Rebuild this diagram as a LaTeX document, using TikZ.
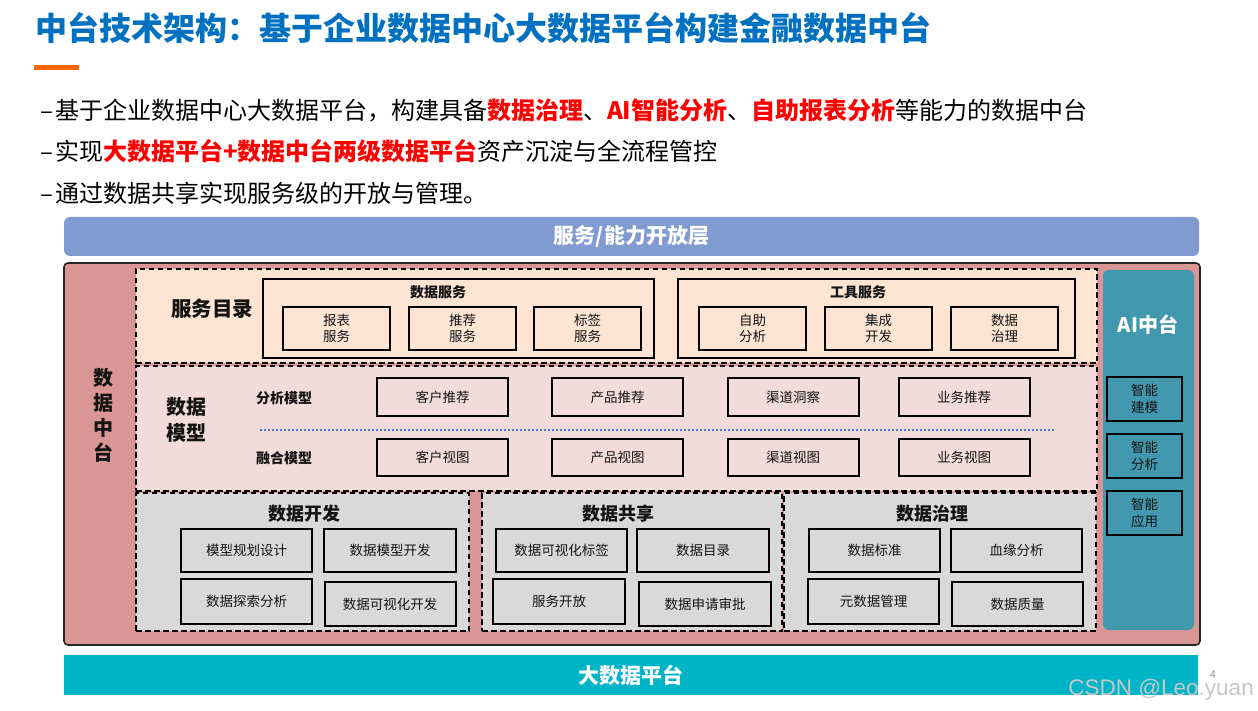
\documentclass[tikz,border=0pt]{standalone}
\usepackage{fontspec}
\setmainfont{Noto Sans CJK SC}
\newfontfamily\wmfont{Liberation Sans}
\definecolor{titleblue}{RGB}{0,112,192}
\definecolor{accorange}{RGB}{255,102,0}
\definecolor{hlred}{RGB}{255,0,0}
\definecolor{barblue}{RGB}{127,155,207}
\definecolor{outerpink}{RGB}{217,150,148}
\definecolor{peach}{RGB}{253,228,211}
\definecolor{lightpink}{RGB}{242,220,219}
\definecolor{lightgray}{RGB}{217,217,217}
\definecolor{aiteal}{RGB}{66,152,174}
\definecolor{bigcyan}{RGB}{0,180,200}
\definecolor{dotblue}{RGB}{68,114,196}
\definecolor{txtdark}{RGB}{20,20,20}
\begin{document}
\begin{tikzpicture}[x=1pt,y=-1pt,
  rect/.style 2 args={minimum width=#1pt, minimum height=#2pt, inner sep=0pt, outer sep=0pt},
  bar/.style={fill=#1, draw=none, text=white, font=\fontsize{21}{25}\selectfont\bfseries},
  sect/.style={draw=black, line width=1.8pt, dash pattern=on 5.5pt off 3.5pt, fill=#1},
  cell/.style={draw=black, line width=2pt, text=txtdark, align=center, font=\fontsize{13.5}{16.5}\selectfont},
  grp/.style={draw=black, line width=2pt},
  head/.style={text=txtdark, font=\fontsize{#1}{#1}\selectfont\bfseries, inner sep=0pt, align=center},
  bullet/.style={anchor=base west, inner sep=0pt, font=\fontsize{24}{28}\selectfont, text=black}]
\useasboundingbox (0,0) rectangle (1258,711);
\fill[white] (0,0) rectangle (1258,711);

% title
\node[anchor=west, inner sep=0pt, text=titleblue, font=\fontsize{32}{36}\selectfont\bfseries] (title) at (35,28)
  {中台技术架构：基于企业数据中心大数据平台构建金融数据中台};
\fill[accorange] (34,65) rectangle (79,70);

% bullets
\node[bullet] (b1) at (40,119.5) {–\kern2pt 基于企业数据中心大数据平台，构建具备{\bfseries\color{hlred}数据治理}、{\bfseries\color{hlred}AI智能分析}、{\bfseries\color{hlred}自助报表分析}等能力的数据中台};
\node[bullet] (b2) at (40,161) {–\kern2pt 实现{\bfseries\color{hlred}大数据平台+数据中台两级数据平台}资产沉淀与全流程管控};
\node[bullet] (b3) at (40,203) {–\kern2pt 通过数据共享实现服务级的开放与管理。};

% top bar
\node[rect={1135}{39}, bar=barblue, rounded corners=6pt] (open) at (631.5,236.5) {服务/能力开放层};

% outer pink
\node[rect={1136}{382}, fill=outerpink, draw=black!85, line width=1.6pt, rounded corners=4pt] (outer) at (632,454) {};
\node[head=20, align=center, font=\fontsize{20}{25}\selectfont\bfseries] (dzt) at (103,415.5) {数\\据\\中\\台};

% service catalog
\node[rect={961}{94}, sect=peach] (svc) at (616.5,316) {};
\node[head=20.5] (svclbl) at (212,309) {服务目录};
\node[rect={391}{79}, grp] (dsvc) at (458.5,318.5) {};
\node[head=14] (dsvct) at (438,292) {数据服务};
\node[rect={107}{43}, cell] (s1) at (336.5,328.5) {报表\\服务};
\node[rect={107}{43}, cell] (s2) at (462.5,328.5) {推荐\\服务};
\node[rect={107}{43}, cell] (s3) at (587.5,328.5) {标签\\服务};
\node[rect={397}{79}, grp] (tsvc) at (876.5,318.5) {};
\node[head=14] (tsvct) at (858,292) {工具服务};
\node[rect={107}{43}, cell] (t1) at (752.5,328.5) {自助\\分析};
\node[rect={107}{43}, cell] (t2) at (878.5,328.5) {集成\\开发};
\node[rect={107}{43}, cell] (t3) at (1004.5,328.5) {数据\\治理};

% data model
\node[rect={961}{125}, sect=lightpink] (model) at (616.5,428.5) {};
\node[head=20, font=\fontsize{20}{26}\selectfont\bfseries] (modellbl) at (186,420) {数据\\模型};
\node[head=14] (am) at (284,398) {分析模型};
\node[head=14] (fm) at (284,458) {融合模型};
\node[rect={131}{38}, cell] (a1) at (442.5,397) {客户推荐};
\node[rect={131}{38}, cell] (a2) at (617.5,397) {产品推荐};
\node[rect={131}{38}, cell] (a3) at (793,397) {渠道洞察};
\node[rect={131}{38}, cell] (a4) at (964,397) {业务推荐};
\node[rect={131}{37}, cell] (f1) at (442.5,457.5) {客户视图};
\node[rect={131}{37}, cell] (f2) at (617.5,457.5) {产品视图};
\node[rect={131}{37}, cell] (f3) at (793,457.5) {渠道视图};
\node[rect={131}{37}, cell] (f4) at (964,457.5) {业务视图};
\coordinate (dl) at (260,430);
\coordinate (dr) at (1054,430);
\draw[dotblue, line width=2pt, dash pattern=on 2pt off 2pt] (dl) -- (dr);

% data development
\node[rect={333}{138}, sect=lightgray] (dev) at (302.5,562) {};
\node[head=18] (devt) at (304.5,514) {数据开发};
\node[rect={131}{43}, cell] (d1) at (246.5,550.5) {模型规划设计};
\node[rect={132}{43}, cell] (d2) at (390,550.5) {数据模型开发};
\node[rect={131}{45}, cell] (d3) at (246.5,601.5) {数据探索分析};
\node[rect={131}{44}, cell] (d4) at (390,604) {数据可视化开发};

% data sharing
\node[rect={300}{138}, sect=lightgray] (share) at (632,562) {};
\node[head=18] (sharet) at (618,514) {数据共享};
\node[rect={131}{43}, cell] (h1) at (561.5,550.5) {数据可视化标签};
\node[rect={132}{43}, cell] (h2) at (703,550.5) {数据目录};
\node[rect={132}{45}, cell] (h3) at (559,601.5) {服务开放};
\node[rect={132}{44}, cell] (h4) at (705,604) {数据申请审批};

% data governance
\node[rect={312}{138}, sect=lightgray] (gov) at (940,562) {};
\node[head=18] (govt) at (932,514) {数据治理};
\node[rect={131}{43}, cell] (g1) at (874.5,550.5) {数据标准};
\node[rect={131}{43}, cell] (g2) at (1016.5,550.5) {血缘分析};
\node[rect={131}{45}, cell] (g3) at (873.5,601.5) {元数据管理};
\node[rect={131}{44}, cell] (g4) at (1017.5,604) {数据质量};

% AI platform
\node[rect={91}{360}, fill=aiteal, rounded corners=6pt] (ai) at (1148.5,450) {};
\node[text=white, font=\fontsize{20}{24}\selectfont\bfseries, inner sep=0pt] (ait) at (1148,325) {AI中台};
\node[rect={75}{44}, cell] (i1) at (1144.5,399) {智能\\建模};
\node[rect={75}{44}, cell] (i2) at (1144.5,456) {智能\\分析};
\node[rect={75}{44}, cell] (i3) at (1144.5,513) {智能\\应用};

% bottom bar
\node[rect={1134}{40}, bar=bigcyan] (bdp) at (631,675) {大数据平台};

% page number and watermark
\node[text=black!40, font=\fontsize{11}{12}\selectfont, inner sep=0pt] (pg) at (1213,675) {4};
\node[anchor=east, text=black!22, font=\wmfont\fontsize{22.5}{26}\selectfont, inner sep=0pt] (wm) at (1254,690) {CSDN @Leo.yuan};
\end{tikzpicture}
\end{document}
